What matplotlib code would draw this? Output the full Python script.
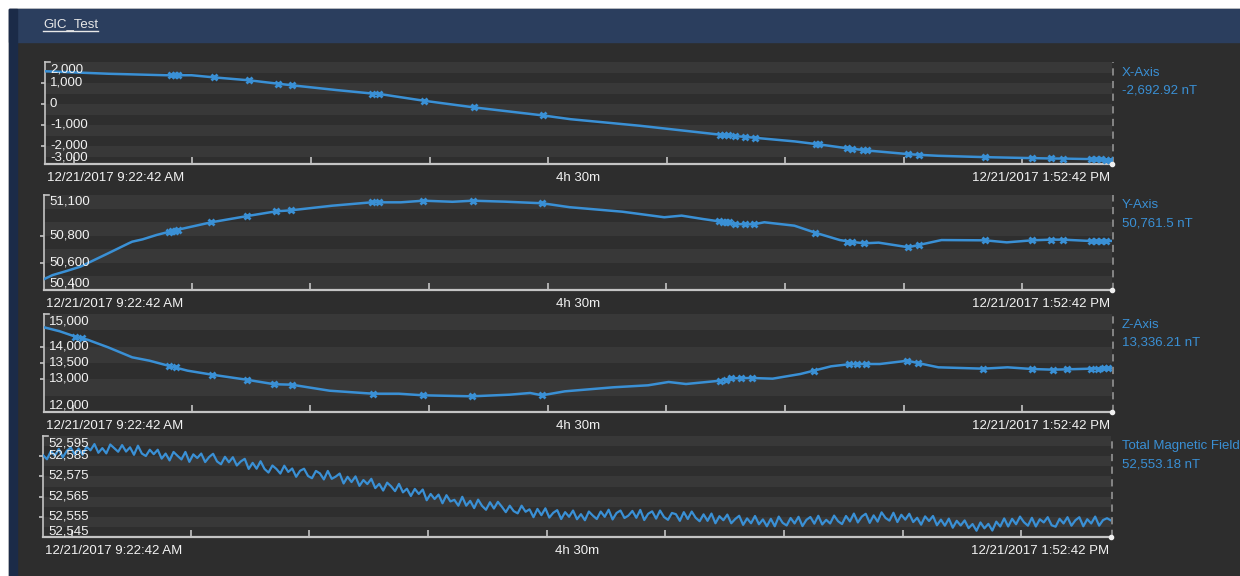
import numpy as np
import pandas as pd
import matplotlib
matplotlib.use('Agg')
import matplotlib.pyplot as plt
import matplotlib.dates as mdates
from matplotlib.patches import Rectangle

plt.rcParams['font.family'] = ['Liberation Sans', 'DejaVu Sans']

W, H = 1240, 576
START = pd.Timestamp('2017-12-21 09:22:42')
END = pd.Timestamp('2017-12-21 13:52:42')

# X-Axis (nT) - minutes after start
x_minutes = [0, 16.2, 31.9, 34.0, 37.1, 42.7, 51.6, 58.9, 62.6, 73.7, 82.8, 84.6, 95.9,
             108.5, 125.9, 133.0, 150.6, 170.8, 172.8, 174.6, 177.1, 179.6, 189.7, 195.0,
             195.9, 202.9, 204.3, 207.9, 218.5, 221.2, 226.0, 237.9, 249.8, 254.6, 257.5,
             264.7, 268.6, 270]
x_values = [1560, 1440, 1365, 1370, 1370, 1270, 1130, 970, 890, 667, 500, 480, 157,
            -157, -538, -720, -1033, -1455, -1480, -1524, -1560, -1603, -1776, -1900,
            -1919, -2100, -2125, -2205, -2381, -2414, -2460, -2524, -2571, -2587, -2592,
            -2615, -2640, -2693]
x_mark_minutes = [31.9, 32.8, 33.6, 42.7, 51.6, 58.9, 62.6, 82.8, 84.6, 95.9, 108.5, 125.9,
                  170.8, 171.9, 172.8, 174.6, 177.1, 179.6, 195.0, 195.9, 202.9, 204.3,
                  207.0, 207.9, 218.5, 221.2, 237.9, 249.8, 254.6, 257.5, 264.7, 266.0,
                  267.3, 268.6, 269.5]
x_mark_values = [1365, 1367, 1369, 1270, 1130, 970, 890, 500, 480, 157, -157, -538,
                 -1455, -1470, -1480, -1524, -1560, -1603, -1900, -1919, -2100, -2125,
                 -2195, -2205, -2381, -2414, -2524, -2571, -2587, -2592, -2615, -2620,
                 -2625, -2640, -2670]

# Y-Axis (nT)
y_minutes = [0, 2.2, 5.7, 9.2, 12.7, 16.2, 18.8, 21.4, 22.3, 24.9, 28.4, 32.7, 42.3, 51.4,
             58.7, 62.4, 72.8, 82.8, 90.2, 95.9, 103.3, 108.4, 116.4, 126.0, 132.9, 146.2,
             156.8, 161.2, 166.6, 171.3, 174.6, 177.2, 179.4, 182.1, 189.7, 195.0, 201.2,
             203.7, 207.4, 211.0, 218.5, 221.2, 226.9, 237.9, 243.4, 249.8, 254.6, 257.6,
             264.7, 268.6, 270]
y_values = [50480, 50510, 50540, 50572, 50621, 50670, 50707, 50744, 50756, 50773, 50805,
            50837, 50899, 50945, 50980, 50987, 51021, 51046, 51046, 51058, 51050, 51058,
            51051, 51039, 51010, 50977, 50936, 50948, 50923, 50903, 50886, 50884, 50884,
            50899, 50874, 50822, 50768, 50756, 50744, 50749, 50715, 50732, 50768, 50766,
            50751, 50766, 50771, 50771, 50761, 50761, 50761.5]
y_mark_minutes = [31.6, 32.4, 33.2, 34.0, 42.3, 51.4, 58.7, 62.4, 82.8, 84.6, 95.9, 108.4,
                  126.0, 170.7, 171.6, 172.4, 173.3, 174.6, 177.2, 179.4, 195.0, 202.9,
                  204.3, 207.4, 218.5, 221.2, 237.9, 249.8, 254.6, 257.6, 264.7, 266.0,
                  267.3, 268.6]
y_mark_values = [50828, 50833, 50838, 50843, 50899, 50945, 50980, 50987, 51046, 51046,
                 51058, 51058, 51039, 50905, 50903, 50900, 50898, 50886, 50884, 50884,
                 50822, 50756, 50756, 50744, 50715, 50732, 50766, 50766, 50771, 50771,
                 50761, 50761, 50761, 50761]

# Z-Axis (nT)
z_minutes = [0, 4.0, 8.4, 11.0, 16.2, 22.3, 26.7, 32.0, 36.3, 42.5, 51.2, 58.2, 62.6, 72.2,
             83.2, 89.7, 95.8, 108.1, 117.7, 122.9, 125.9, 131.7, 143.9, 152.7, 157.9,
             162.3, 171.0, 173.7, 178.9, 184.2, 191.2, 194.6, 199.0, 203.4, 207.8, 211.3,
             218.3, 220.9, 226.1, 237.5, 243.6, 249.8, 255.0, 258.5, 264.6, 269.0, 270]
z_values = [14593, 14470, 14287, 14213, 13980, 13674, 13570, 13399, 13265, 13142, 12989,
            12850, 12836, 12652, 12560, 12560, 12511, 12480, 12530, 12582, 12511, 12633,
            12756, 12817, 12919, 12857, 12959, 13030, 13041, 13020, 13163, 13265, 13399,
            13460, 13469, 13469, 13570, 13500, 13368, 13326, 13368, 13316, 13296, 13306,
            13326, 13326, 13336.21]
z_mark_minutes = [7.8, 9.5, 31.6, 33.3, 42.5, 51.2, 58.2, 62.6, 83.2, 95.8, 108.1, 125.9,
                  171.0, 172.5, 173.7, 176.3, 178.9, 194.6, 203.4, 205.6, 207.8, 218.3,
                  220.9, 237.5, 249.8, 255.0, 258.5, 264.6, 266.4, 268.0, 269.0]
z_mark_values = [14290, 14260, 13410, 13380, 13142, 12989, 12850, 12836, 12560, 12511,
                 12480, 12511, 12959, 12990, 13030, 13041, 13041, 13265, 13460, 13469,
                 13469, 13570, 13500, 13326, 13316, 13296, 13306, 13326, 13330, 13340,
                 13345]

# Total Magnetic Field (nT), one reading per minute
total_minutes = np.arange(271)
total_values = [
    52585.5, 52583.5, 52587.5, 52585.3, 52588.6, 52584.4, 52587.6, 52589.3, 52585.9, 52588.8,
    52585.7, 52589.7, 52587.9, 52591.0, 52586.7, 52589.0, 52586.4, 52590.8, 52589.0, 52587.2,
    52590.5, 52587.3, 52589.4, 52585.7, 52590.2, 52586.3, 52585.1, 52588.2, 52586.0, 52588.2,
    52583.8, 52586.3, 52582.9, 52587.1, 52585.2, 52583.4, 52587.1, 52582.2, 52585.9, 52584.1,
    52586.3, 52582.1, 52584.6, 52586.2, 52582.4, 52581.0, 52584.7, 52582.0, 52584.5, 52580.4,
    52582.4, 52583.7, 52578.7, 52581.7, 52578.8, 52582.5, 52578.7, 52576.9, 52580.4, 52578.7,
    52576.4, 52580.3, 52577.2, 52578.9, 52574.8, 52577.8, 52578.8, 52575.2, 52574.1, 52577.7,
    52576.5, 52573.5, 52577.7, 52573.8, 52574.9, 52576.4, 52571.5, 52574.8, 52572.2, 52575.0,
    52570.3, 52573.2, 52571.2, 52573.8, 52569.2, 52571.3, 52568.0, 52571.9, 52570.1, 52567.7,
    52571.3, 52567.1, 52568.9, 52565.3, 52568.8, 52566.3, 52568.5, 52563.2, 52566.3, 52563.8,
    52566.0, 52561.7, 52565.7, 52562.6, 52563.4, 52560.5, 52564.9, 52560.5, 52562.9, 52559.3,
    52563.5, 52560.4, 52558.5, 52562.2, 52559.1, 52562.4, 52560.0, 52557.3, 52560.5, 52557.8,
    52556.7, 52560.5, 52557.5, 52558.7, 52554.8, 52558.9, 52555.8, 52559.2, 52554.6, 52557.0,
    52558.3, 52553.9, 52557.3, 52555.0, 52558.1, 52553.8, 52556.3, 52553.3, 52557.6, 52555.6,
    52553.9, 52557.6, 52555.0, 52558.5, 52553.7, 52556.9, 52558.1, 52554.4, 52555.6, 52557.9,
    52554.5, 52558.4, 52553.4, 52556.5, 52557.7, 52554.1, 52558.1, 52554.9, 52553.5, 52556.9,
    52556.3, 52553.0, 52557.3, 52553.9, 52557.6, 52554.5, 52552.8, 52556.2, 52553.0, 52556.6,
    52551.8, 52555.3, 52553.3, 52556.1, 52551.8, 52553.9, 52555.5, 52551.0, 52554.2, 52551.8,
    52555.4, 52551.3, 52553.7, 52550.3, 52554.0, 52550.3, 52555.1, 52552.0, 52550.7, 52554.4,
    52551.7, 52555.0, 52550.4, 52553.5, 52554.9, 52551.6, 52555.5, 52551.2, 52553.5, 52551.7,
    52555.6, 52552.8, 52551.4, 52555.4, 52552.7, 52556.6, 52552.2, 52555.1, 52556.5, 52552.0,
    52555.7, 52552.6, 52557.2, 52554.4, 52553.1, 52557.0, 52552.4, 52556.0, 52553.6, 52556.5,
    52552.4, 52554.5, 52551.1, 52555.2, 52552.9, 52555.4, 52550.8, 52553.6, 52550.6, 52554.1,
    52549.6, 52553.0, 52550.7, 52553.2, 52549.4, 52551.4, 52548.1, 52552.2, 52549.3, 52551.5,
    52548.2, 52552.6, 52550.2, 52554.2, 52550.2, 52554.0, 52551.3, 52555.1, 52552.3, 52550.6,
    52554.5, 52550.2, 52553.8, 52552.2, 52554.8, 52550.8, 52550.1, 52554.0, 52551.7, 52554.8,
    52550.6, 52553.3, 52554.8, 52550.3, 52553.8, 52551.7, 52555.1, 52550.6, 52553.4, 52554.3,
    52553.18,
]

series_names = ['X-Axis', 'Y-Axis', 'Z-Axis', 'Total Magnetic Field']
current_text = ['-2,692.92 nT', '50,761.5 nT', '13,336.21 nT', '52,553.18 nT']

# y ranges and tick values of the four panels
y_limits = [(-2850, 2000), (50400, 51100), (12000, 15000), (52545, 52595)]
y_ticks = [[2000, 1000, 0, -1000, -2000, -3000],
           [51100, 50800, 50600, 50400],
           [15000, 14000, 13500, 13000, 12000],
           [52595, 52585, 52575, 52565, 52555, 52545]]
band_steps = [500, 100, 500, 5]

BLUE = '#3a90d5'
GREY = '#c4c4c4'
LIGHT_BAND = '#383838'
DARK_BAND = '#2e2e2e'

# panel boxes in pixels: left, right, top, bottom
boxes = [(45, 1112, 62, 164), (44, 1112, 195, 290), (44, 1112, 314, 412), (43, 1111, 436, 537)]

fig = plt.figure(figsize=(W / 100, H / 100), dpi=100)
fig.patch.set_facecolor('white')

def px_rect(x0, y0, x1, y1, color):
    fig.patches.append(Rectangle((x0 / W, 1 - y1 / H), (x1 - x0) / W, (y1 - y0) / H,
                                 transform=fig.transFigure, color=color, zorder=-10))

px_rect(9, 9, W, H, '#2d2d2d')
px_rect(9, 9, W, 42, '#2b3e5e')
px_rect(9, 9, 17, H, '#1b2b48')

title = fig.text(43 / W, 1 - 24 / H, 'GIC_Test', color='#e8e8e8', fontsize=9.5,
                 va='center', ha='left')

def to_time(minutes):
    return START + pd.to_timedelta(np.asarray(minutes, dtype=float), unit='m')

panels = [
    (x_minutes, x_values, x_mark_minutes, x_mark_values),
    (y_minutes, y_values, y_mark_minutes, y_mark_values),
    (z_minutes, z_values, z_mark_minutes, z_mark_values),
    (total_minutes, total_values, [], []),
]

for i, (mins, vals, mk_mins, mk_vals) in enumerate(panels):
    left, right, top, bottom = boxes[i]
    w_px, h_px = right - left, bottom - top
    ax = fig.add_axes([left / W, 1 - bottom / H, w_px / W, h_px / H])
    ymin, ymax = y_limits[i]
    ax.set_facecolor(DARK_BAND)

    # alternating bands, lighter band right below the top
    step = band_steps[i]
    b = ymax
    light = True
    while b > ymin:
        if light:
            ax.axhspan(b - step, b, color=LIGHT_BAND, lw=0, zorder=0)
        light = not light
        b -= step

    lw = 1.6 if i == 3 else 1.8
    ax.plot(to_time(mins), vals, color=BLUE, lw=lw, zorder=3, solid_joinstyle='round')
    if len(mk_mins):
        ax.plot(to_time(mk_mins), mk_vals, ls='none', marker='x', ms=4, mew=2,
                color=BLUE, zorder=4)

    ax.set_xlim(START, END)
    ax.set_ylim(ymin, ymax)

    for s in ['top', 'right']:
        ax.spines[s].set_visible(False)
    ax.spines['left'].set_color(GREY)
    ax.spines['left'].set_linewidth(1.2)
    ax.spines['bottom'].set_color(GREY)
    ax.spines['bottom'].set_linewidth(1.6)

    ax.xaxis.set_major_locator(mdates.MinuteLocator(byminute=[0, 30]))
    ax.tick_params(axis='x', direction='in', length=5, width=1.2, color=GREY,
                   labelbottom=False)
    inner = [t for t in y_ticks[i] if ymin < t < ymax]
    ax.set_yticks(inner)
    ax.tick_params(axis='y', direction='out', length=3, width=1.2, color=GREY,
                   labelleft=False)

    # top bracket of the y axis
    ax.plot([0, 5 / w_px], [1, 1], transform=ax.transAxes, color=GREY, lw=1.2,
            clip_on=False)
    # right end dot and dashed marker line
    ax.plot([1], [0], transform=ax.transAxes, marker='o', ms=3, color='#f0f0f0',
            clip_on=False, zorder=5)
    ax.plot([1 + 1 / w_px] * 2, [0, 1], transform=ax.transAxes, color='#8c8c8c',
            lw=1.3, ls=(0, (4, 3)), clip_on=False)

    # y tick labels, kept inside the plot box
    for t in y_ticks[i]:
        pos = (t - ymin) / (ymax - ymin) * h_px
        pos = min(max(pos, 5.5), h_px - 7.5) + 0.5
        ax.text(5 / w_px, pos / h_px, f'{t:,}', transform=ax.transAxes, color='#f2f2f2',
                fontsize=9.5, va='center', ha='left', zorder=6)

    # time labels
    ty = -14 / h_px
    ax.text(2 / w_px, ty, START.strftime('%m/%d/%Y ') + '9:22:42 AM',
            transform=ax.transAxes, color='#f2f2f2', fontsize=9.5, va='center', ha='left')
    ax.text(0.5, ty, '4h 30m', transform=ax.transAxes, color='#f2f2f2', fontsize=9.5,
            va='center', ha='center')
    ax.text(1 - 2 / w_px, ty, END.strftime('%m/%d/%Y ') + '1:52:42 PM',
            transform=ax.transAxes, color='#f2f2f2', fontsize=9.5, va='center', ha='right')

    # series name and current value on the right
    fig.text(1122 / W, 1 - (top + 10.5) / H, series_names[i], color=BLUE, fontsize=9.5,
             va='center', ha='left')
    fig.text(1122 / W, 1 - (top + 28.5) / H, current_text[i], color=BLUE, fontsize=9.5,
             va='center', ha='left')

# underline the title
fig.canvas.draw()
bb = title.get_window_extent()
fig.lines.append(plt.Line2D([bb.x0 / W, bb.x1 / W], [(bb.y0 - 1) / H] * 2,
                            transform=fig.transFigure, color='#e8e8e8', lw=1))

fig.savefig('out.png', dpi=100, facecolor=fig.get_facecolor())
